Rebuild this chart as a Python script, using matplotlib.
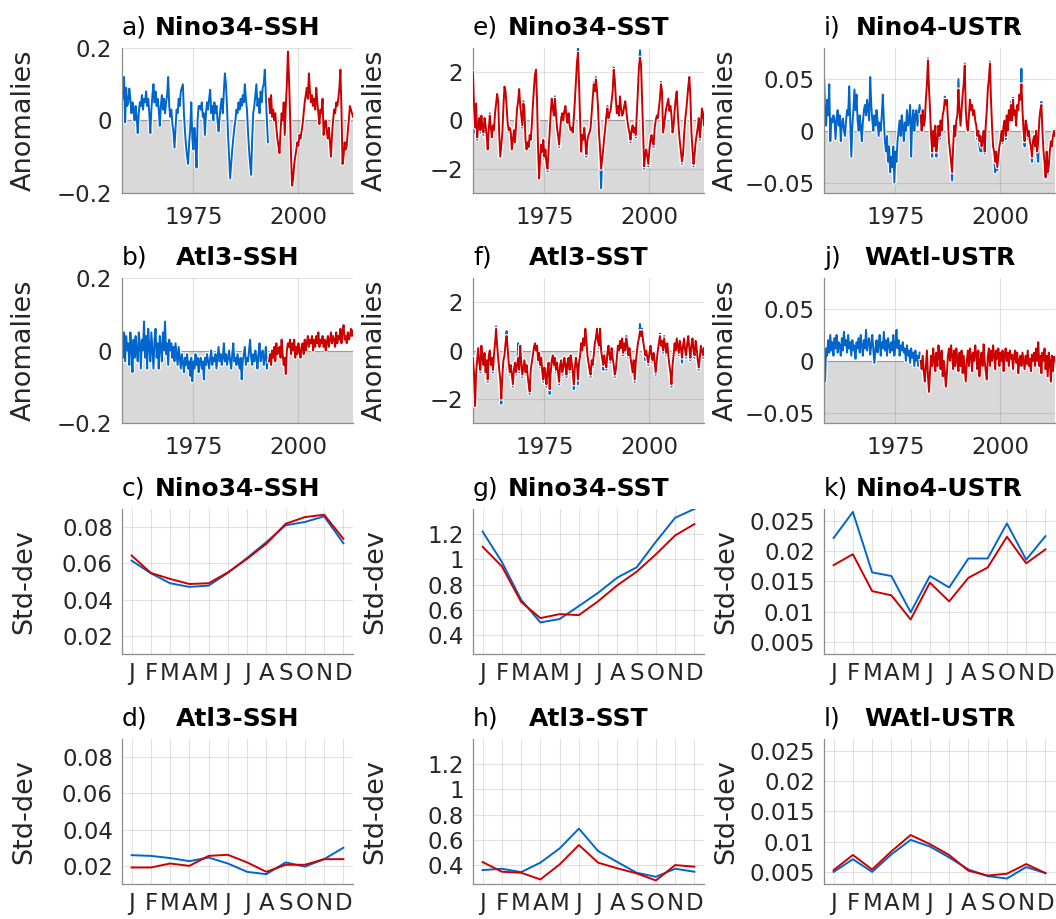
import numpy as np
import matplotlib
matplotlib.use('Agg')
import matplotlib.pyplot as plt
import matplotlib.patheffects as pe

plt.rcParams['font.family'] = 'DejaVu Sans'

# ---- time axis: quarterly samples starting 1958 ----
start_year = 1958.0
step = 0.25
ssh_red_start = 1993.0
ustr_red_start = 1981.0
months = ['J', 'F', 'M', 'A', 'M', 'J', 'J', 'A', 'S', 'O', 'N', 'D']

# ---- a) Nino34-SSH anomalies ----
nino34_ssh_blue = [
    0.11, 0.06, 0.12, -0.005, 0.09, 0.04, 0.05, 0.088, 0.06, 0.02,
    0.05, 0.03, 0.0, 0.04, 0.01, -0.035, 0.02, 0.05, 0.04, 0.07,
    0.03, 0.06, 0.05, 0.08, 0.04, 0.06, 0.02, -0.035, 0.03, 0.07,
    0.1, 0.05, 0.08, 0.04, 0.06, 0.03, -0.015, 0.04, 0.07, 0.03,
    0.06, 0.02, 0.05, 0.07, 0.12, 0.04, 0.01, 0.03, -0.01, -0.03,
    -0.075, -0.02, 0.03, 0.02, 0.06, 0.04, 0.08, 0.09, 0.1, 0.02,
    -0.03, -0.07, -0.1, -0.12, -0.06, -0.02, 0.05, -0.05, -0.08, -0.02,
    -0.06, -0.13, 0.0, 0.04, 0.04, 0.03, 0.05, 0.01, 0.02, -0.04,
    0.02, 0.05, 0.03, 0.06, 0.085, 0.02, 0.04, 0.0, 0.05, 0.02,
    0.04, 0.0, -0.03, 0.01, 0.04, 0.06, 0.02, 0.08, 0.13, 0.1,
    0.04, -0.04, -0.1, -0.16, -0.12, -0.08, -0.05, -0.02, 0.0, 0.03,
    0.02, 0.05, 0.03, 0.06, 0.04, 0.07, 0.05, 0.1, 0.06, 0.03,
    -0.03, -0.08, -0.12, -0.15, -0.05, 0.02, 0.04, 0.07, 0.1, 0.04,
    0.06, 0.02, 0.08, 0.05, 0.09, 0.1, 0.14, 0.07, 0.0, -0.06]
nino34_ssh_red = [
    0.06, 0.02, 0.07, 0.01, 0.03, 0.0, 0.02, -0.02, -0.05, -0.07,
    -0.09, -0.03, 0.02, 0.0, 0.05, -0.04, 0.04, 0.1, 0.19, 0.12,
    0.02, -0.1, -0.18, -0.16, -0.12, -0.1, -0.08, -0.06, -0.07, -0.04,
    -0.05, -0.03, -0.01, 0.02, 0.05, 0.07, 0.09, 0.06, 0.13, 0.08,
    0.05, 0.07, 0.04, 0.06, 0.03, 0.09, 0.05, 0.02, -0.01, 0.03,
    0.02, 0.06, -0.04, -0.01, 0.0, -0.03, -0.05, -0.02, -0.06, -0.1,
    -0.04, 0.0, 0.03, 0.02, 0.05, 0.04, 0.06, 0.09, 0.14, 0.03,
    -0.12, -0.1, -0.06, -0.08, -0.07, -0.03, 0.0, 0.04, 0.03, 0.02, 0.01]

# ---- b) Atl3-SSH anomalies ----
atl3_ssh_blue = [
    0.02, -0.02, 0.05, -0.03, 0.04, 0.0, 0.02, -0.04, 0.05, 0.01,
    -0.06, 0.03, -0.02, 0.04, 0.0, -0.03, 0.05, 0.02, -0.05, 0.03,
    0.0, 0.08, -0.02, 0.04, -0.05, 0.06, 0.01, -0.03, 0.05, 0.0,
    -0.05, 0.03, 0.06, -0.02, 0.02, -0.05, 0.04, 0.01, -0.03, 0.05,
    0.0, 0.08, -0.01, 0.02, -0.04, 0.03, 0.0, 0.02, -0.02, 0.01,
    -0.03, 0.02, -0.01, -0.04, 0.01, -0.02, -0.05, -0.01, -0.03, -0.06,
    -0.02, -0.04, -0.01, -0.05, -0.03, -0.07, -0.02, -0.085, -0.03, -0.05,
    -0.01, -0.04, -0.02, -0.06, -0.03, -0.02, -0.05, -0.03, -0.08, -0.02,
    -0.04, -0.01, -0.03, -0.05, -0.02, 0.0, -0.04, -0.02, -0.03, -0.01,
    -0.05, -0.02, 0.01, -0.03, -0.01, -0.04, -0.02, 0.02, -0.03, -0.01,
    -0.04, -0.02, 0.0, -0.03, -0.05, -0.01, 0.02, -0.03, -0.02, -0.04,
    -0.01, -0.03, -0.05, -0.02, -0.08, -0.03, -0.01, 0.01, -0.04, -0.02,
    -0.03, 0.0, 0.03, -0.02, -0.04, -0.01, -0.03, 0.0, -0.02, -0.05,
    -0.01, 0.02, -0.03, -0.01, 0.0, -0.04, -0.02, 0.01, -0.05, -0.02]
atl3_ssh_red = [
    -0.03, -0.01, -0.04, 0.0, -0.02, 0.01, -0.03, 0.02, -0.01, 0.0,
    0.01, -0.02, 0.03, -0.01, -0.04, -0.02, -0.065, 0.0, 0.02, 0.01,
    0.03, -0.01, 0.02, 0.0, 0.03, -0.02, 0.01, -0.01, 0.02, 0.0,
    -0.02, 0.01, 0.02, -0.01, 0.03, 0.0, 0.02, 0.04, 0.01, 0.03,
    0.02, 0.04, 0.0, 0.03, 0.01, 0.04, 0.02, 0.05, 0.01, 0.03,
    0.02, 0.04, 0.01, 0.03, 0.0, 0.02, 0.04, 0.01, 0.03, 0.05,
    0.02, 0.04, 0.03, 0.01, 0.05, 0.02, 0.04, 0.03, 0.06, 0.02,
    0.05, 0.07, 0.03, 0.04, 0.02, 0.05, 0.03, 0.04, 0.06, 0.04, 0.055]

# ---- e) Nino34-SST anomalies ----
nino34_sst_blue = [
    2.0, 0.6, -0.5, 0.7, -0.8, -0.2, 0.2, -0.5, 0.2, -0.3,
    -0.6, 0.1, -0.2, -0.7, -1.2, -0.4, 0.3, -0.3, -0.7, -0.2,
    -0.4, 0.3, 0.8, 1.1, 0.8, -0.6, -1.5, -1.0, -0.5, 0.6,
    1.4, 1.2, 0.6, -0.1, -0.5, -0.3, -0.6, -1.2, -0.8, -0.4,
    -0.9, -0.2, 0.5, 0.9, 1.3, 0.6, 0.2, -0.3, 0.8, 0.4,
    -0.8, -1.2, -0.9, -1.1, -0.6, -0.8, -0.2, 0.6, 1.3, 1.9,
    2.1, 0.8, -1.2, -2.4, -1.6, -1.0, -1.5, -0.8, -1.6, -1.2,
    -1.8, -2.1, -1.2, -0.5, 0.3, 0.9, 0.5, 0.2, 1.0, 0.3,
    -0.3, -0.6, -1.1, -0.4, 0.2, 0.3, 0.0, 0.5, 0.6, 0.2,
    -0.1, 0.3, -0.2, -0.4, -0.3, -0.5, 0.1, 0.8, 1.6, 2.5,
    3.0, 1.5, 0.0, -1.3, -0.6, -0.8, -0.3, -1.0, -1.5, -0.8,
    -0.6, -0.5, -0.3, 0.3, 0.9, 1.6, 1.2, 1.8, 1.3, 0.6,
    -0.5, -1.3, -2.8, -1.6, -1.2, -0.7, -0.3, 0.3, 0.6, 0.1,
    0.3, 0.4, 0.8, 1.2, 2.2, 1.7, 0.9, 0.3, 0.7, 0.2,
    1.0, 0.5, 0.2, 0.3, 0.6, 0.8, 0.4, 0.0, -0.3, -0.6,
    -0.9, -0.4, -0.2, -0.6, -0.3, -0.7, 0.3, 1.2, 2.3, 2.9,
    2.4, 0.9, -0.6, -2.0, -1.4, -1.2, -1.5, -1.9, -1.2, -0.8,
    -0.6, -0.9, -1.1, -0.3, 0.1, 0.2, 0.1, 0.5, 0.9, 1.6,
    1.2, -0.5, -0.2, 0.3, 0.5, 0.7, 0.9, 0.4, 0.6, 0.2,
    -0.5, -0.2, 0.4, 0.9, 1.2, 0.3, -0.4, -0.9, -1.4, -1.8,
    -1.4, -0.6, 0.0, 0.4, 0.9, 1.4, 1.8, 1.0, -0.5, -1.2,
    -1.9, -1.4, -0.9, -0.6, -0.3, 0.1, -0.8, -0.2, 0.5, 0.3, -0.2]
nino34_sst_red = [
    2.0, 0.6, -0.3, 0.7, -0.7, -0.2, 0.1, -0.4, 0.2, -0.3,
    -0.5, 0.1, -0.2, -0.6, -1.2, -0.4, 0.2, -0.3, -0.7, -0.2,
    -0.4, 0.3, 0.7, 1.1, 0.8, -0.6, -1.5, -1.0, -0.5, 0.6,
    1.4, 1.2, 0.6, -0.1, -0.4, -0.3, -0.5, -1.2, -0.8, -0.4,
    -0.9, -0.2, 0.5, 0.8, 1.3, 0.6, 0.2, -0.2, 0.7, 0.4,
    -0.8, -1.2, -0.9, -1.1, -0.6, -0.8, -0.2, 0.6, 1.3, 1.9,
    2.1, 0.8, -1.2, -2.4, -1.5, -1.0, -1.3, -0.8, -1.5, -1.2,
    -1.8, -2.0, -1.2, -0.5, 0.3, 0.9, 0.5, 0.2, 0.9, 0.3,
    -0.3, -0.6, -1.0, -0.4, 0.1, 0.3, 0.0, 0.4, 0.6, 0.2,
    -0.1, 0.3, -0.2, -0.4, -0.3, -0.5, 0.1, 0.8, 1.6, 2.4,
    2.8, 1.5, 0.0, -1.3, -0.6, -0.8, -0.3, -0.9, -1.4, -0.8,
    -0.6, -0.5, -0.3, 0.3, 0.9, 1.5, 1.2, 1.7, 1.3, 0.6,
    -0.5, -1.2, -2.0, -1.6, -1.2, -0.7, -0.3, 0.2, 0.5, 0.1,
    0.3, 0.4, 0.8, 1.2, 2.1, 1.7, 0.9, 0.3, 0.6, 0.2,
    1.0, 0.5, 0.2, 0.3, 0.6, 0.8, 0.4, 0.0, -0.3, -0.5,
    -0.8, -0.4, -0.2, -0.5, -0.3, -0.6, 0.3, 1.2, 2.2, 2.6,
    2.3, 0.9, -0.6, -1.9, -1.4, -1.2, -1.5, -1.8, -1.2, -0.8,
    -0.6, -0.9, -1.0, -0.3, 0.0, 0.2, 0.1, 0.5, 0.9, 1.5,
    1.2, -0.5, -0.2, 0.2, 0.5, 0.7, 0.9, 0.4, 0.6, 0.2,
    -0.5, -0.2, 0.4, 0.9, 1.2, 0.3, -0.4, -0.9, -1.3, -1.7,
    -1.4, -0.6, 0.0, 0.4, 0.9, 1.4, 1.8, 1.0, -0.5, -1.2,
    -1.8, -1.4, -0.9, -0.6, -0.3, 0.1, -0.7, -0.2, 0.5, 0.3, -0.2]

# ---- f) Atl3-SST anomalies ----
atl3_sst_blue = [
    -0.3, -1.1, -2.3, -1.0, -0.5, 0.1, -0.6, -0.9, 0.1, -0.4,
    -0.7, -0.1, -1.0, -0.5, -1.3, -0.3, 0.0, -0.7, -0.4, -0.9,
    -0.3, 0.3, 1.0, 0.1, -0.4, -0.9, -1.3, -2.2, -1.1, -0.5,
    -0.3, 0.3, 0.8, 0.0, -0.6, -1.0, -0.7, -1.1, -1.5, -0.9,
    -0.6, -1.0, -0.7, 0.3, -0.9, 0.2, -0.6, -1.1, -0.8, -0.5,
    -1.0, -0.7, -1.1, -1.5, -1.8, -0.9, -0.6, -0.3, 0.0, 0.3,
    -0.1, 0.1, -0.5, -0.2, -0.7, -0.4, -1.0, -1.3, -0.8, -1.2,
    -1.5, -0.9, -0.6, -1.8, -1.0, -0.5, -0.3, -0.7, -0.4, -0.9,
    -0.6, -1.0, -1.4, -0.7, -0.5, -1.0, -0.9, -0.4, -0.7, -1.1,
    -0.6, -0.4, -0.9, -0.3, -0.6, -1.0, -1.6, -0.8, -0.4, -0.7,
    -1.4, -0.6, -0.3, 0.2, -0.1, 0.4, 0.1, 0.8, 0.3, -0.5,
    -0.6, -0.9, -1.1, -0.5, -0.7, -0.3, 0.2, 0.4, 0.8, 0.3,
    0.1, 0.8, -0.1, -0.4, -0.8, -0.3, -0.6, -0.8, -0.2, 0.1,
    -0.3, -0.5, 0.0, -0.4, -0.7, -1.1, -0.9, -0.3, 0.1, -0.1,
    0.3, 0.0, 0.5, -0.2, 0.2, -0.1, 0.6, 0.1, -0.3, 0.0,
    -0.4, -0.7, -1.0, -0.5, -1.3, -0.6, -0.2, 0.2, 0.5, 1.1,
    0.7, 0.9, 0.3, 0.0, -0.4, -0.1, -0.4, -0.6, -0.2, 0.1,
    -0.3, -0.5, -0.2, -0.6, -1.0, -0.5, -0.1, 0.2, 0.7, 0.1,
    0.3, -0.1, 0.6, 0.1, -0.2, 0.2, -0.3, -0.7, -1.0, -1.5,
    -0.7, -0.3, 0.2, -0.1, 0.4, 0.1, -0.2, 0.3, 0.0, -0.5,
    0.1, 0.4, -0.1, -0.3, 0.2, 0.5, 0.0, -0.4, 0.1, 0.4,
    -0.1, -0.3, 0.3, 0.0, -0.5, -0.8, -0.4, 0.1, -0.1, -0.3, 0.0]
atl3_sst_red = [
    -0.3, -1.0, -2.3, -0.9, -0.4, 0.1, -0.5, -0.8, 0.2, -0.3,
    -0.6, -0.1, -0.9, -0.4, -1.2, -0.2, 0.0, -0.6, -0.3, -0.8,
    -0.2, 0.3, 0.9, 0.2, -0.3, -0.8, -1.2, -2.0, -1.0, -0.4,
    -0.2, 0.3, 0.6, 0.1, -0.5, -0.9, -0.6, -1.0, -1.4, -0.8,
    -0.5, -0.9, -0.6, -0.3, -0.8, 0.2, -0.5, -1.0, -0.7, -0.4,
    -0.9, -0.6, -1.0, -1.4, -1.7, -0.8, -0.5, -0.2, 0.1, 0.3,
    0.0, 0.2, -0.4, -0.1, -0.6, -0.3, -0.9, -1.2, -0.7, -1.0,
    -1.4, -0.8, -0.5, -1.6, -0.9, -0.4, -0.2, -0.6, -0.3, -0.8,
    -0.5, -0.9, -1.3, -0.6, -0.4, -0.9, -0.7, -0.3, -0.6, -1.0,
    -0.5, -0.3, -0.8, -0.2, -0.5, -0.9, -1.4, -0.7, -0.3, -0.6,
    -1.2, -0.5, -0.2, 0.3, 0.0, 0.5, 0.2, 0.9, 0.4, -0.2,
    -0.5, -0.8, -1.0, -0.4, -0.6, -0.2, 0.3, 0.5, 0.9, 0.4,
    0.2, 0.9, 0.0, -0.3, -0.6, -0.2, -0.5, -0.7, -0.1, 0.2,
    -0.2, -0.4, 0.1, -0.3, -0.6, -1.0, -0.8, -0.3, 0.2, 0.0,
    0.4, 0.1, 0.5, -0.1, 0.3, 0.0, 0.5, 0.2, -0.2, 0.1,
    -0.3, -0.6, -0.9, -0.4, -1.2, -0.5, -0.1, 0.3, 0.5, 0.8,
    0.6, 0.8, 0.4, 0.1, -0.2, 0.0, -0.3, -0.5, -0.1, 0.2,
    -0.2, -0.4, -0.1, -0.5, -0.9, -0.4, 0.0, 0.3, 0.6, 0.2,
    0.4, 0.0, 0.5, 0.2, -0.1, 0.3, -0.2, -0.6, -0.9, -1.4,
    -0.6, -0.2, 0.3, 0.0, 0.5, 0.2, -0.1, 0.4, 0.1, -0.3,
    0.2, 0.5, 0.0, -0.2, 0.3, 0.6, 0.1, -0.3, 0.2, 0.5,
    0.0, -0.2, 0.4, 0.1, -0.4, -0.7, -0.3, 0.2, 0.0, -0.2, 0.1]

# ---- i) Nino4-USTR anomalies ----
nino4_ustr_blue = [
    0.055, 0.02, 0.005, 0.03, 0.015, 0.045, -0.01, 0.012, 0.008, 0.015,
    0.01, -0.008, 0.012, 0.02, 0.005, 0.015, -0.01, 0.008, 0.012, 0.0,
    -0.005, 0.01, 0.02, 0.015, 0.043, 0.01, -0.025, 0.005, 0.02, 0.04,
    0.02, 0.035, 0.01, 0.0, 0.015, 0.005, -0.01, 0.008, 0.02, 0.025,
    0.015, 0.03, 0.02, 0.01, 0.052, 0.025, 0.01, 0.0, 0.015, 0.005,
    0.02, 0.01, -0.005, 0.008, 0.0, 0.015, 0.035, 0.01, -0.01, -0.02,
    -0.005, -0.03, -0.015, -0.04, -0.025, -0.035, -0.015, -0.05, -0.02, -0.03,
    -0.01, 0.0, 0.01, -0.005, 0.015, 0.005, -0.01, 0.008, 0.0, 0.02,
    0.005, 0.01, 0.025, -0.025, 0.01, 0.02, 0.0, 0.015, 0.02, 0.005,
    0.015, 0.025,
    0.015, 0.0, 0.02, 0.005, 0.01, 0.03, 0.045, 0.07,
    0.04, 0.02, -0.008, -0.025, 0.0, -0.018, 0.005, -0.025, -0.012, 0.005,
    -0.008, 0.01, 0.0, 0.015, 0.022, 0.033, 0.025, 0.03, 0.01, -0.012,
    -0.022, -0.035, -0.048, -0.018, 0.005, -0.005, 0.012, 0.018, 0.05, 0.022,
    0.005, 0.025, 0.038, 0.045, 0.065, 0.02, 0.002, 0.0, 0.015, 0.03,
    0.02, 0.025, 0.015, 0.02, 0.01, 0.005, -0.008, 0.0, -0.015, -0.02,
    -0.018, -0.02, 0.0, -0.022, 0.005, 0.02, 0.04, 0.05, 0.067, 0.03,
    0.003, -0.018, -0.025, -0.04, -0.022, -0.038, -0.028, -0.018, -0.012, 0.0,
    -0.012, 0.005, 0.01, -0.008, 0.015, 0.0, 0.02, 0.01, 0.028, 0.01,
    0.032, 0.015, 0.02, 0.005, 0.025, 0.02, 0.035, 0.03, 0.06, 0.02,
    0.0, -0.015, 0.01, 0.005, -0.008, 0.0, -0.012, -0.018, -0.03, -0.012,
    -0.008, -0.018, 0.0, -0.022, -0.03, 0.01, 0.02, 0.028, 0.0, -0.022,
    -0.032, -0.045, -0.022, -0.042, -0.035, -0.022, -0.012, -0.015, -0.005, 0.0, -0.005]
nino4_ustr_red = [
    0.015, 0.0, 0.02, 0.005, 0.01, 0.03, 0.045, 0.068,
    0.04, 0.02, -0.005, -0.02, 0.0, -0.015, 0.005, -0.02, -0.01, 0.005,
    -0.005, 0.01, 0.0, 0.015, 0.02, 0.03, 0.025, 0.03, 0.01, -0.01,
    -0.02, -0.03, -0.04, -0.015, 0.005, -0.005, 0.01, 0.015, 0.04, 0.02,
    0.005, 0.02, 0.035, 0.045, 0.063, 0.02, 0.005, 0.0, 0.015, 0.03,
    0.02, 0.025, 0.015, 0.02, 0.01, 0.005, -0.005, 0.0, -0.01, -0.005,
    -0.015, -0.01, 0.0, -0.02, 0.005, 0.02, 0.04, 0.05, 0.065, 0.03,
    0.005, -0.015, -0.02, -0.03, -0.02, -0.035, -0.025, -0.015, -0.01, 0.0,
    -0.01, 0.005, 0.01, -0.005, 0.015, 0.0, 0.02, 0.01, 0.025, 0.01,
    0.03, 0.015, 0.02, 0.005, 0.025, 0.02, 0.035, 0.03, 0.045, 0.02,
    0.0, -0.01, 0.01, 0.005, -0.005, 0.0, -0.01, -0.015, -0.025, -0.01,
    -0.005, -0.015, 0.0, -0.02, -0.01, 0.01, 0.02, 0.025, 0.0, -0.02,
    -0.03, -0.045, -0.02, -0.04, -0.035, -0.02, -0.01, -0.015, -0.005, 0.0, -0.005]

# ---- j) WAtl-USTR anomalies ----
watl_ustr_blue = [
    0.0, -0.02, 0.012, 0.005, 0.02, 0.008, 0.025, 0.01, 0.018, 0.005,
    0.022, 0.012, 0.025, 0.008, 0.018, 0.015, 0.005, 0.022, 0.01, 0.028,
    0.015, 0.02, 0.008, 0.025, 0.012, 0.018, 0.005, 0.02, 0.01, 0.015,
    0.002, 0.018, 0.012, 0.022, 0.008, 0.025, 0.015, 0.005, 0.02, 0.012,
    0.03, 0.01, 0.018, 0.022, 0.006, 0.015, 0.025, 0.01, -0.002, 0.012,
    0.02, 0.008, 0.015, 0.025, 0.005, 0.018, 0.012, 0.028, 0.01, 0.02,
    0.005, 0.022, 0.015, 0.008, 0.018, 0.01, 0.025, 0.005, 0.015, 0.03,
    0.012, 0.02, 0.005, 0.015, 0.01, 0.018, 0.008, 0.012, 0.0, 0.015,
    0.005, 0.01, -0.002, 0.012, 0.003, 0.008, -0.005, 0.01, 0.0, 0.005,
    -0.005, 0.008]
watl_ustr_red = [
    0.0, -0.008, 0.005, -0.01, -0.02, -0.005, 0.01, -0.015,
    -0.03, -0.01, 0.005, -0.005, 0.012, 0.0, -0.01, 0.008, -0.005, 0.015,
    0.005, -0.008, 0.01, -0.015, 0.0, -0.01, -0.025, -0.012, 0.005, 0.012,
    0.0, 0.015, 0.005, -0.008, 0.01, -0.005, 0.012, 0.0, -0.01, 0.008,
    -0.005, 0.01, -0.012, 0.005, -0.008, -0.02, 0.0, 0.01, -0.005, 0.012,
    0.005, -0.01, 0.008, 0.0, 0.015, 0.005, -0.008, 0.01, -0.015, 0.0,
    0.008, -0.005, 0.016, 0.0, -0.01, -0.018, 0.005, 0.012, -0.005, 0.01,
    0.0, 0.015, 0.005, -0.008, 0.01, 0.002, 0.012, -0.005, 0.008, 0.0,
    0.01, -0.01, 0.005, 0.012, 0.0, 0.008, -0.005, 0.01, 0.002, 0.006,
    -0.008, 0.005, 0.01, -0.002, 0.008, -0.012, 0.0, 0.005, -0.005, 0.008,
    0.0, -0.008, 0.005, -0.003, 0.01, -0.005, 0.002, -0.01, 0.006, 0.0,
    0.008, -0.005, 0.012, 0.0, 0.018, -0.005, 0.005, -0.012, 0.008, 0.0,
    0.012, -0.008, 0.005, -0.015, 0.008, 0.0, -0.02, 0.005, -0.01, 0.004, 0.0]

# ---- monthly standard deviations ----
nino34_ssh_std_blue = [0.0615, 0.0545, 0.049, 0.047, 0.0477, 0.0547, 0.063, 0.0717, 0.081, 0.0828, 0.0859, 0.0711]
nino34_ssh_std_red = [0.0643, 0.0547, 0.0514, 0.0486, 0.049, 0.055, 0.0625, 0.0708, 0.0818, 0.0855, 0.0868, 0.0735]
atl3_ssh_std_blue = [0.0259, 0.0255, 0.0243, 0.0226, 0.0246, 0.0213, 0.0167, 0.0154, 0.0219, 0.0196, 0.0237, 0.0300]
atl3_ssh_std_red = [0.0191, 0.0191, 0.0213, 0.0200, 0.0255, 0.0261, 0.0219, 0.0167, 0.0206, 0.0206, 0.0237, 0.0237]
nino34_sst_std_blue = [1.22, 0.98, 0.68, 0.50, 0.527, 0.63, 0.735, 0.856, 0.937, 1.14, 1.33, 1.40]
nino34_sst_std_red = [1.10, 0.945, 0.663, 0.534, 0.566, 0.558, 0.668, 0.795, 0.902, 1.04, 1.19, 1.28]
atl3_sst_std_blue = [0.36, 0.371, 0.344, 0.419, 0.532, 0.689, 0.511, 0.424, 0.339, 0.307, 0.371, 0.347]
atl3_sst_std_red = [0.424, 0.347, 0.339, 0.286, 0.405, 0.559, 0.419, 0.374, 0.334, 0.278, 0.40, 0.387]
nino4_ustr_std_blue = [0.0222, 0.0265, 0.0165, 0.0159, 0.0099, 0.0159, 0.0140, 0.0188, 0.0188, 0.0246, 0.0186, 0.0225]
nino4_ustr_std_red = [0.0177, 0.0195, 0.0134, 0.0127, 0.0087, 0.0148, 0.0117, 0.0156, 0.0173, 0.0224, 0.0180, 0.0203]
watl_ustr_std_blue = [0.0050, 0.0071, 0.0050, 0.0079, 0.0103, 0.0092, 0.0074, 0.0054, 0.0043, 0.0039, 0.0058, 0.0048]
watl_ustr_std_red = [0.0053, 0.0078, 0.0054, 0.0084, 0.0111, 0.0096, 0.0078, 0.0052, 0.0044, 0.0047, 0.0063, 0.0048]

# ---- styling ----
BLUE = '#0066cc'
RED = '#cc0000'
FILL = '#d9d9d9'
TXT = '#262626'

fig = plt.figure(figsize=(10.56, 9.19), dpi=100)
col_left = [0.1155, 0.4479, 0.7803]
row_bottom = [0.790, 0.5397, 0.2884, 0.0381]
W, H = 0.2188, 0.1578

halo = [pe.Stroke(linewidth=3.0, foreground='white'), pe.Normal()]


def base_axes(col, row, letter, name, ylabel):
    ax = fig.add_axes([col_left[col], row_bottom[row], W, H])
    for s in ['top', 'right']:
        ax.spines[s].set_visible(False)
    for s in ['left', 'bottom']:
        ax.spines[s].set_color('#8c8c8c')
        ax.spines[s].set_linewidth(0.9)
    ax.grid(True, color=TXT, alpha=0.13, linewidth=0.8)
    ax.tick_params(length=0, labelsize=16.5, colors=TXT)
    ax.text(0.0, 1.09, letter, transform=ax.transAxes, ha='left', va='baseline',
            fontsize=18, color='black')
    ax.text(0.5, 1.09, name, transform=ax.transAxes, ha='center', va='baseline',
            fontsize=18, fontweight='bold', color='black')
    ax.text(-0.425, 0.5, ylabel, transform=ax.transAxes, rotation=90,
            ha='center', va='center', fontsize=19.5, color=TXT)
    return ax


def anomaly_panel(col, row, letter, name, blue, red, red_start, ylim, yticks, ylabels):
    ax = base_axes(col, row, letter, name, 'Anomalies')
    ax.axhspan(ylim[0], 0, color=FILL, zorder=0.5, linewidth=0)
    ax.axhline(0, color='#9a9a9a', linewidth=0.8, zorder=1.6)
    tb = start_year + step * np.arange(len(blue))
    tr = red_start + step * np.arange(len(red))
    ax.plot(tb, blue, color=BLUE, linewidth=1.4, path_effects=halo, zorder=2)
    ax.plot(tr, red, color=RED, linewidth=1.4, path_effects=halo, zorder=3)
    ax.set_xlim(1958, 2013)
    ax.set_ylim(*ylim)
    ax.set_xticks([1975, 2000])
    ax.set_xticklabels(['1975', '2000'])
    ax.set_yticks(yticks)
    ax.set_yticklabels(ylabels)
    ax.tick_params(axis='x', pad=9.5)
    ax.tick_params(axis='y', pad=7)
    return ax


def std_panel(col, row, letter, name, blue, red, ylim, yticks, ylabels):
    ax = base_axes(col, row, letter, name, 'Std-dev')
    m = np.arange(1, 13)
    ax.plot(m, blue, color=BLUE, linewidth=1.4, zorder=2)
    ax.plot(m, red, color=RED, linewidth=1.4, zorder=3)
    ax.set_xlim(0.5, 12.5)
    ax.set_ylim(*ylim)
    ax.set_xticks(m)
    ax.set_xticklabels(months)
    ax.set_yticks(yticks)
    ax.set_yticklabels(ylabels)
    ax.tick_params(axis='x', pad=5.5)
    ax.tick_params(axis='y', pad=6.5)
    return ax


ssh_ticks = [-0.2, 0, 0.2]
ssh_labels = ['\u22120.2', '0', '0.2']
sst_ticks = [-2, 0, 2]
sst_labels = ['\u22122', '0', '2']
ustr_ticks = [-0.05, 0, 0.05]
ustr_labels = ['\u22120.05', '0', '0.05']

anomaly_panel(0, 0, 'a)', 'Nino34-SSH', nino34_ssh_blue, nino34_ssh_red, ssh_red_start,
              (-0.2, 0.2), ssh_ticks, ssh_labels)
anomaly_panel(0, 1, 'b)', 'Atl3-SSH', atl3_ssh_blue, atl3_ssh_red, ssh_red_start,
              (-0.2, 0.2), ssh_ticks, ssh_labels)
anomaly_panel(1, 0, 'e)', 'Nino34-SST', nino34_sst_blue, nino34_sst_red, start_year,
              (-3, 3), sst_ticks, sst_labels)
anomaly_panel(1, 1, 'f)', 'Atl3-SST', atl3_sst_blue, atl3_sst_red, start_year,
              (-3, 3), sst_ticks, sst_labels)
anomaly_panel(2, 0, 'i)', 'Nino4-USTR', nino4_ustr_blue, nino4_ustr_red, ustr_red_start,
              (-0.06, 0.08), ustr_ticks, ustr_labels)
anomaly_panel(2, 1, 'j)', 'WAtl-USTR', watl_ustr_blue, watl_ustr_red, ustr_red_start,
              (-0.06, 0.08), ustr_ticks, ustr_labels)

ssh_std_ticks = [0.02, 0.04, 0.06, 0.08]
ssh_std_labels = ['0.02', '0.04', '0.06', '0.08']
sst_std_ticks = [0.4, 0.6, 0.8, 1.0, 1.2]
sst_std_labels = ['0.4', '0.6', '0.8', '1', '1.2']
ustr_std_ticks = [0.005, 0.01, 0.015, 0.02, 0.025]
ustr_std_labels = ['0.005', '0.01', '0.015', '0.02', '0.025']

std_panel(0, 2, 'c)', 'Nino34-SSH', nino34_ssh_std_blue, nino34_ssh_std_red,
          (0.01, 0.09), ssh_std_ticks, ssh_std_labels)
std_panel(0, 3, 'd)', 'Atl3-SSH', atl3_ssh_std_blue, atl3_ssh_std_red,
          (0.01, 0.09), ssh_std_ticks, ssh_std_labels)
std_panel(1, 2, 'g)', 'Nino34-SST', nino34_sst_std_blue, nino34_sst_std_red,
          (0.25, 1.4), sst_std_ticks, sst_std_labels)
std_panel(1, 3, 'h)', 'Atl3-SST', atl3_sst_std_blue, atl3_sst_std_red,
          (0.25, 1.4), sst_std_ticks, sst_std_labels)
std_panel(2, 2, 'k)', 'Nino4-USTR', nino4_ustr_std_blue, nino4_ustr_std_red,
          (0.003, 0.027), ustr_std_ticks, ustr_std_labels)
std_panel(2, 3, 'l)', 'WAtl-USTR', watl_ustr_std_blue, watl_ustr_std_red,
          (0.003, 0.027), ustr_std_ticks, ustr_std_labels)

fig.savefig('out.png', dpi=100)
